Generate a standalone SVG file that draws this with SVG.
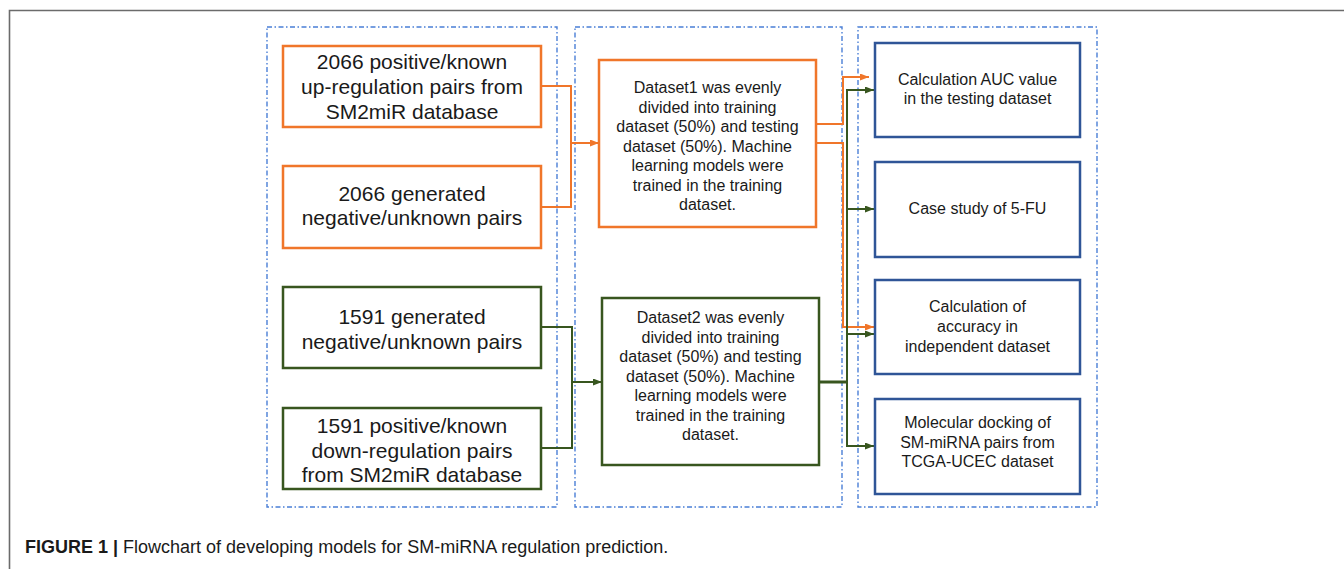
<svg xmlns="http://www.w3.org/2000/svg" width="1344" height="569" viewBox="0 0 1344 569">
<style>
  .frame{fill:none;stroke:#6b6b6b;stroke-width:1.6}
  .grp{fill:none;stroke:#4a7fd6;stroke-width:1.4;stroke-dasharray:5 2.5 1.5 2.5}
  .or{fill:#fff;stroke:#f0762a;stroke-width:2.5}
  .gr{fill:#fff;stroke:#38561f;stroke-width:2.5}
  .bl{fill:#fff;stroke:#2f5597;stroke-width:2.5}
  .t20{font-family:"Liberation Sans",Arial,sans-serif;font-size:21px;fill:#1a1a1a;text-anchor:middle}
  .t16{font-family:"Liberation Sans",Arial,sans-serif;font-size:16px;fill:#1a1a1a;text-anchor:middle}
  .co{fill:none;stroke:#f0762a;stroke-width:2}
  .cg{fill:none;stroke:#38561f;stroke-width:2}
  .cap{font-family:"Liberation Sans",Arial,sans-serif;font-size:18px;fill:#1a1a1a}
</style>
<defs>
  <marker id="ao" markerUnits="userSpaceOnUse" markerWidth="9" markerHeight="7" refX="9" refY="3.5" orient="auto"><path d="M0,0 L9,3.5 L0,7 z" fill="#f0762a"/></marker>
  <marker id="ag" markerUnits="userSpaceOnUse" markerWidth="9" markerHeight="7" refX="9" refY="3.5" orient="auto"><path d="M0,0 L9,3.5 L0,7 z" fill="#38561f"/></marker>
</defs>
<rect width="1344" height="569" fill="#fff"/>
<path class="frame" d="M9.5,569 V10.5 H1344"/>
<g id="groups">
  <rect class="grp" x="267" y="27" width="290" height="480"/>
  <rect class="grp" x="575" y="27" width="267" height="480"/>
  <rect class="grp" x="858" y="27" width="239" height="480"/>
</g>
<g id="connectors">
  <path class="co" d="M541,86 H571 V207 H541"/>
  <path class="co" d="M571,143 H599" marker-end="url(#ao)"/>
  <path class="co" d="M816,124 H843 V77 H869" marker-end="url(#ao)"/>
  <path class="co" d="M816,143 H843 V327 H874" marker-end="url(#ao)"/>
  <path class="cg" d="M541,327 H572 V448 H541"/>
  <path class="cg" d="M572,382 H602" marker-end="url(#ag)"/>
  <path class="cg" d="M819,382 H847" style="stroke-width:3"/>
  <path class="cg" d="M847,90 V446"/>
  <path class="cg" d="M846,90 H874" marker-end="url(#ag)"/>
  <path class="cg" d="M846,209 H874" marker-end="url(#ag)"/>
  <path class="cg" d="M846,334 H874" marker-end="url(#ag)"/>
  <path class="cg" d="M846,446 H874" marker-end="url(#ag)"/>
</g>
<g id="n1">
  <rect class="or" x="283" y="46" width="258" height="81"/>
  <text class="t20" x="412" y="69">2066 positive/known</text>
  <text class="t20" x="412" y="94">up-regulation pairs from</text>
  <text class="t20" x="412" y="119">SM2miR database</text>
</g>
<g id="n2">
  <rect class="or" x="283" y="166" width="258" height="82"/>
  <text class="t20" x="412" y="201">2066 generated</text>
  <text class="t20" x="412" y="225">negative/unknown pairs</text>
</g>
<g id="n3">
  <rect class="gr" x="283" y="287" width="258" height="81"/>
  <text class="t20" x="412" y="324">1591 generated</text>
  <text class="t20" x="412" y="349">negative/unknown pairs</text>
</g>
<g id="n4">
  <rect class="gr" x="283" y="408" width="258" height="81"/>
  <text class="t20" x="412" y="433">1591 positive/known</text>
  <text class="t20" x="412" y="458">down-regulation pairs</text>
  <text class="t20" x="412" y="482">from SM2miR database</text>
</g>
<g id="d1">
  <rect class="or" x="599" y="60" width="217" height="167"/>
  <text class="t16" x="707.5" y="93">Dataset1 was evenly</text>
  <text class="t16" x="707.5" y="112.5">divided into training</text>
  <text class="t16" x="707.5" y="132">dataset (50%) and testing</text>
  <text class="t16" x="707.5" y="151.5">dataset (50%). Machine</text>
  <text class="t16" x="707.5" y="171">learning models were</text>
  <text class="t16" x="707.5" y="190.5">trained in the training</text>
  <text class="t16" x="707.5" y="210">dataset.</text>
</g>
<g id="d2">
  <rect class="gr" x="602" y="298" width="217" height="167"/>
  <text class="t16" x="710.5" y="323">Dataset2 was evenly</text>
  <text class="t16" x="710.5" y="342.5">divided into training</text>
  <text class="t16" x="710.5" y="362">dataset (50%) and testing</text>
  <text class="t16" x="710.5" y="381.5">dataset (50%). Machine</text>
  <text class="t16" x="710.5" y="401">learning models were</text>
  <text class="t16" x="710.5" y="420.5">trained in the training</text>
  <text class="t16" x="710.5" y="440">dataset.</text>
</g>
<g id="r1">
  <rect class="bl" x="875" y="43" width="205" height="94"/>
  <text class="t16" x="977.5" y="85">Calculation AUC value</text>
  <text class="t16" x="977.5" y="104">in the testing dataset</text>
</g>
<g id="r2">
  <rect class="bl" x="875" y="162" width="205" height="95"/>
  <text class="t16" x="977.5" y="214">Case study of 5-FU</text>
</g>
<g id="r3">
  <rect class="bl" x="875" y="280" width="205" height="94"/>
  <text class="t16" x="977.5" y="312">Calculation of</text>
  <text class="t16" x="977.5" y="332">accuracy in</text>
  <text class="t16" x="977.5" y="352">independent dataset</text>
</g>
<g id="r4">
  <rect class="bl" x="875" y="399" width="205" height="95"/>
  <text class="t16" x="977.5" y="428">Molecular docking of</text>
  <text class="t16" x="977.5" y="448">SM-miRNA pairs from</text>
  <text class="t16" x="977.5" y="467">TCGA-UCEC dataset</text>
</g>
<text class="cap" x="25" y="553"><tspan font-weight="bold">FIGURE 1</tspan> <tspan font-weight="bold">|</tspan> Flowchart of developing models for SM-miRNA regulation prediction.</text>
</svg>
